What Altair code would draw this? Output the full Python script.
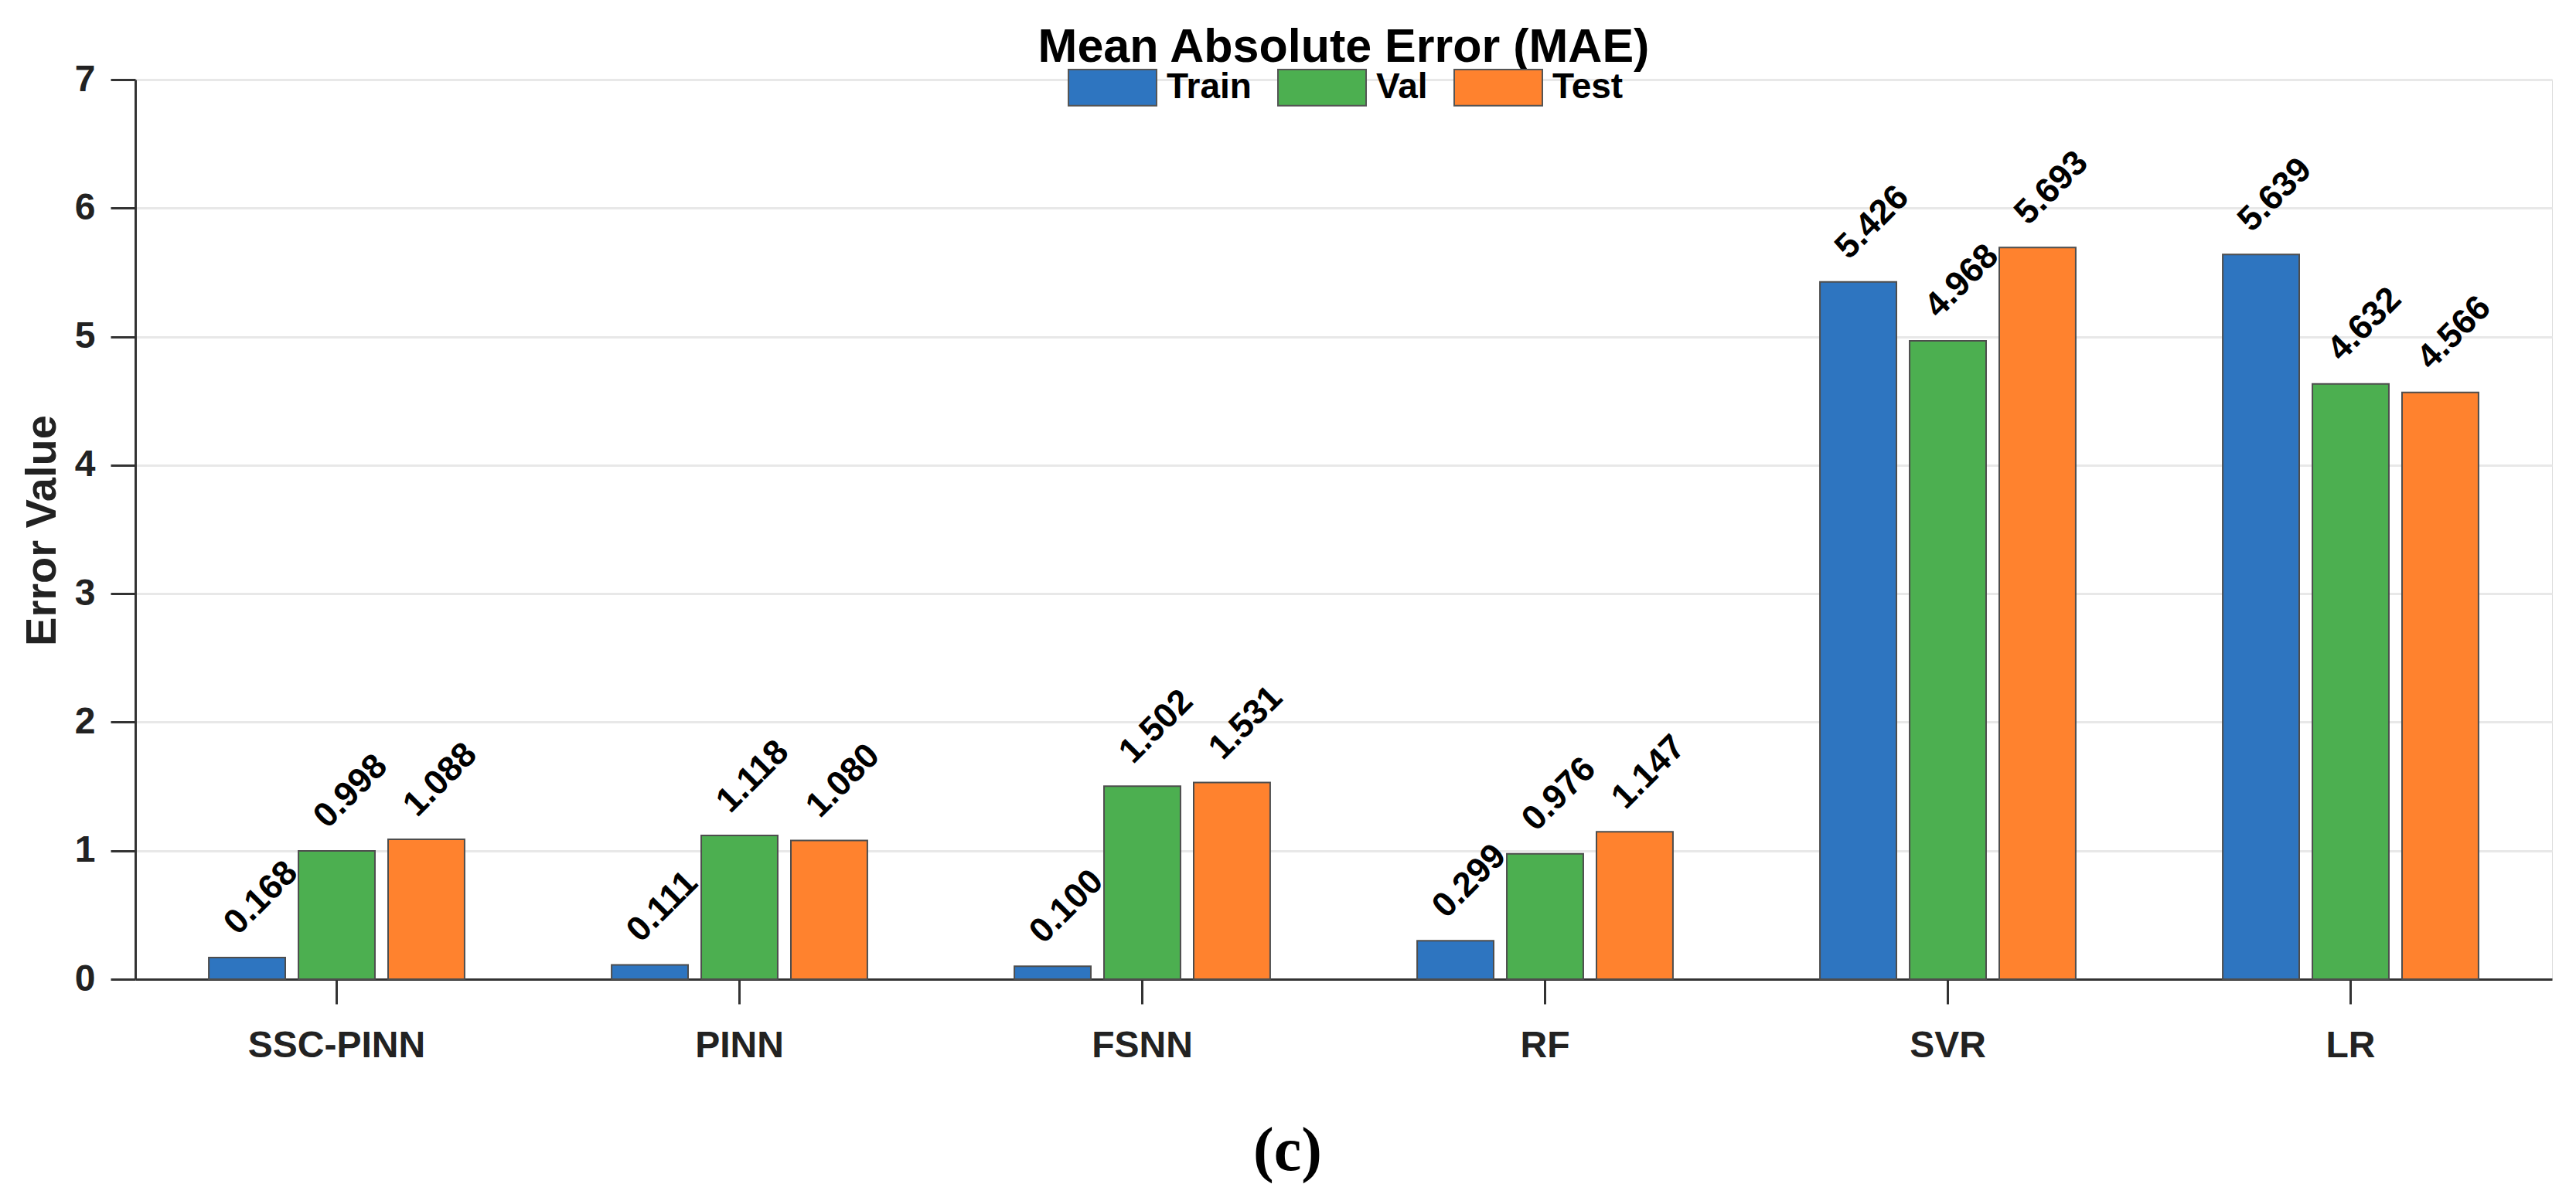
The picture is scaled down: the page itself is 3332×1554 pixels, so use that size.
import altair as alt
import pandas as pd

models = ["SSC-PINN", "PINN", "FSNN", "RF", "SVR", "LR"]
splits = ["Train", "Val", "Test"]
train_mae = [0.168, 0.111, 0.100, 0.299, 5.426, 5.639]
val_mae = [0.998, 1.118, 1.502, 0.976, 4.968, 4.632]
test_mae = [1.088, 1.080, 1.531, 1.147, 5.693, 4.566]
split_colors = ["#2E75C0", "#4CAF50", "#FF822E"]
y_ticks = [0, 1, 2, 3, 4, 5, 6, 7]
title_text = ["Mean Absolute Error (MAE)"]

rows = []
for i, m in enumerate(models):
    for s, vals in zip(splits, [train_mae, val_mae, test_mae]):
        rows.append({"model": m, "split": s, "value": vals[i]})
df = pd.DataFrame(rows)
title_df = pd.DataFrame({"t": title_text})

FONT = "Liberation Sans"
DARK = "#333333"
PLOT_W = 3126
PLOT_H = 1164

x_enc = alt.X(
    "model:N",
    sort=models,
    scale=alt.Scale(paddingInner=0.365, paddingOuter=0.1825),
    axis=alt.Axis(
        title="(c)",
        titleFont="Liberation Serif",
        titleFontSize=80,
        titleFontWeight="bold",
        titleColor="black",
        titleX=1490,
        titleY=246,
        titleAlign="center",
        titleBaseline="alphabetic",
        labelAngle=0,
        labelFont=FONT,
        labelFontSize=48,
        labelFontWeight="bold",
        labelColor="#222222",
        labelPadding=30,
        labelLimit=0,
        tickSize=32,
        tickWidth=3,
        tickColor=DARK,
        domainColor=DARK,
        domainWidth=3,
        grid=False,
    ),
)
xoff_enc = alt.XOffset(
    "split:N", sort=splits, scale=alt.Scale(paddingInner=0.147, paddingOuter=0)
)
y_enc = alt.Y(
    "value:Q",
    scale=alt.Scale(domain=[0, 7], nice=False),
    axis=alt.Axis(
        values=y_ticks,
        format="d",
        title="Error Value",
        titleFont=FONT,
        titleFontSize=56,
        titleFontWeight="bold",
        titleColor="#222222",
        titleX=-104,
        titleY=583,
        titleAngle=270,
        titleBaseline="alphabetic",
        labelFont=FONT,
        labelFontSize=48,
        labelFontWeight="bold",
        labelColor="#222222",
        labelPadding=20,
        tickSize=32,
        tickWidth=3,
        tickColor=DARK,
        domainColor=DARK,
        domainWidth=3,
        grid=True,
        gridColor="#e8e8e8",
        gridWidth=3,
    ),
)

color_enc = alt.Color(
    "split:N",
    sort=splits,
    scale=alt.Scale(domain=splits, range=split_colors),
    legend=alt.Legend(
        orient="none",
        legendX=1206,
        legendY=-48,
        direction="horizontal",
        title=None,
        symbolType="M-1,-0.41H1V0.41H-1Z",
        symbolSize=12996,
        symbolStrokeColor="#555555",
        symbolStrokeWidth=2,
        symbolOpacity=1,
        labelFont=FONT,
        labelFontSize=46,
        labelFontWeight="bold",
        labelColor="black",
        labelOffset=12,
        columnPadding=30,
        padding=0,
    ),
)

bars = alt.Chart(df).mark_bar(stroke="#4d4d4d", strokeWidth=2, opacity=1).encode(
    x=x_enc, xOffset=xoff_enc, y=y_enc, color=color_enc
)

labels = alt.Chart(df).mark_text(
    font=FONT,
    fontSize=45,
    fontWeight="bold",
    color="black",
    angle=315,
    align="left",
    baseline="middle",
    dx=11,
    dy=-42,
).encode(
    x=alt.X("model:N", sort=models),
    xOffset=alt.XOffset("split:N", sort=splits),
    y=alt.Y("value:Q"),
    text=alt.Text("value:Q", format=".3f"),
)

title_mark = alt.Chart(title_df).mark_text(
    font=FONT,
    fontSize=61,
    fontWeight="bold",
    color="black",
    align="center",
    baseline="alphabetic",
).encode(
    x=alt.value(PLOT_W / 2),
    y=alt.value(-23),
    text="t:N",
)

chart = (
    alt.layer(bars, labels, title_mark)
    .properties(
        width=PLOT_W,
        height=PLOT_H,
        autosize=alt.AutoSizeParams(type="none"),
        padding={"left": 167, "top": 95, "right": 20, "bottom": 270},
    )
    .configure_view(stroke=None)
    .configure(background="white")
)

chart.save("out.html", embed_options={"renderer": "svg", "actions": False})
